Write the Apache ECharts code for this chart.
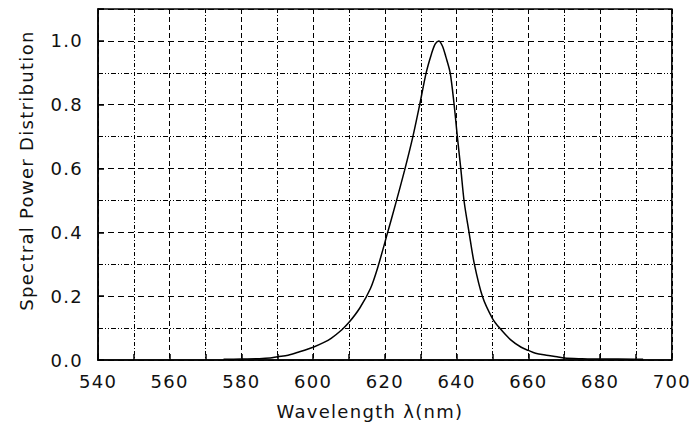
<!DOCTYPE html>
<html><head><meta charset="utf-8">
<script src="https://cdn.jsdelivr.net/npm/echarts/dist/echarts.min.js"></script>
<style>html,body{margin:0;padding:0;background:#fff}#c{width:692px;height:434px}#c svg text{letter-spacing:1.3px}</style>
</head><body><div id="c"></div>
<script>
// Wavelength (nm) and relative spectral power
const wavelengths = [575, 580, 585, 588, 590, 593, 596, 600, 603, 605, 608, 610, 613, 616, 618, 620.7, 623, 625.5, 627.8, 629.7, 631.5, 633, 634, 635, 636, 637, 638.2, 639.3, 640.2, 641.2, 642.1, 643.5, 644.9, 647.2, 650, 652, 655, 658, 660, 662, 665, 668, 670, 675, 680, 685, 692];
const spd = [0.002, 0.003, 0.004, 0.006, 0.010, 0.015, 0.025, 0.040, 0.055, 0.068, 0.095, 0.118, 0.163, 0.225, 0.29, 0.397, 0.49, 0.595, 0.70, 0.80, 0.90, 0.96, 0.99, 1.0, 0.985, 0.95, 0.90, 0.80, 0.70, 0.595, 0.496, 0.397, 0.303, 0.199, 0.13, 0.10, 0.064, 0.040, 0.030, 0.021, 0.015, 0.010, 0.006, 0.004, 0.003, 0.003, 0.002];
const yMinorGrid = [0.1, 0.3, 0.5, 0.7, 0.9];
const xAxisTitle = 'Wavelength λ(nm)';
const yAxisTitle = 'Spectral Power Distribution';

const font = 'DejaVu Sans';
const chart = echarts.init(document.getElementById('c'), null, {renderer: 'svg'});
chart.setOption({
  animation: false,
  backgroundColor: '#fff',
  grid: {left: 98, right: 16, top: 9, bottom: 74, show: true, borderColor: '#000', borderWidth: 1.5},
  xAxis: {
    type: 'value', min: 540, max: 700, interval: 20,
    name: xAxisTitle, nameLocation: 'middle', nameGap: 42,
    nameTextStyle: {fontFamily: font, fontSize: 18, color: '#111', padding: [0, 30, 0, 0]},
    axisLine: {lineStyle: {color: '#000', width: 1.5}},
    axisTick: {inside: true, length: 6, lineStyle: {color: '#000', width: 1.5}},
    minorTick: {show: true, splitNumber: 2, length: 6, lineStyle: {color: '#000', width: 1.5}},
    axisLabel: {fontFamily: font, fontSize: 18, color: '#111', margin: 12},
    splitLine: {show: true, lineStyle: {color: '#000', width: 1, type: [5, 3]}},
    minorSplitLine: {show: true, lineStyle: {color: '#000', width: 1, type: [4, 2, 1, 2]}}
  },
  yAxis: {
    type: 'value', min: 0, max: 1.1, interval: 0.2,
    name: yAxisTitle, nameLocation: 'middle', nameGap: 63,
    nameTextStyle: {fontFamily: font, fontSize: 18, color: '#111', padding: [0, 0, 0, 28]},
    axisLine: {show: true, lineStyle: {color: '#000', width: 1.5}},
    axisTick: {show: true, inside: true, length: 6, lineStyle: {color: '#000', width: 1.5}},
    axisLabel: {fontFamily: font, fontSize: 18, color: '#111', margin: 15,
      formatter: v => v > 1.05 ? '' : v.toFixed(1)},
    splitLine: {show: true, lineStyle: {color: '#000', width: 1, type: [6, 4]}}
  },
  series: [{
    type: 'line',
    data: wavelengths.map((w, i) => [w, spd[i]]),
    showSymbol: false, symbol: 'none', smooth: 0.3,
    lineStyle: {color: '#000', width: 1.5},
    markLine: {
      silent: true, symbol: ['none', 'none'], label: {show: false},
      lineStyle: {color: '#000', width: 1, type: [5, 2, 1, 2, 1, 2]},
      data: yMinorGrid.map(v => ({yAxis: v}))
    }
  }]
});
</script></body></html>
